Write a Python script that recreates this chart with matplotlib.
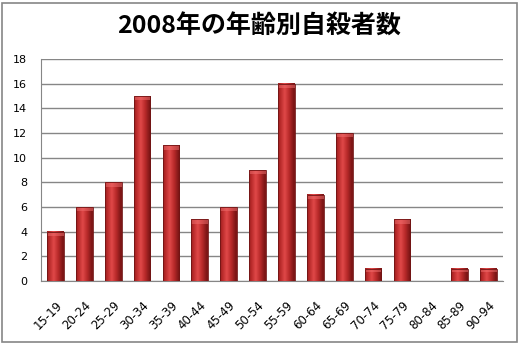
import numpy as np
import matplotlib.pyplot as plt
from matplotlib.colors import LinearSegmentedColormap
from matplotlib.patches import Rectangle

plt.rcParams['font.family'] = ['Noto Sans CJK JP', 'DejaVu Sans']

age_groups = ['15-19', '20-24', '25-29', '30-34', '35-39', '40-44', '45-49', '50-54',
              '55-59', '60-64', '65-69', '70-74', '75-79', '80-84', '85-89', '90-94']
counts = [4, 6, 8, 15, 11, 5, 6, 9, 16, 7, 12, 1, 5, 0, 1, 1]

fig = plt.figure(figsize=(5.19, 3.44), dpi=100)
ax = fig.add_axes([41 / 519, 63 / 344, 462 / 519, 222 / 344])

x = np.arange(len(age_groups))
width = 0.58
bars = ax.bar(x, counts, width=width, color='#c83232', edgecolor='none', zorder=2)

# horizontal cylinder-like shading
grad = np.linspace(0, 1, 64)
shade = np.clip(1 - np.abs(grad - 0.4) * 1.9, 0, 1)
cmap = LinearSegmentedColormap.from_list('rd', ['#7e1616', '#b82a2a', '#e04848'])
for rect in bars:
    h = rect.get_height()
    if h <= 0:
        continue
    x0 = rect.get_x()
    w = rect.get_width()
    ax.imshow(shade[np.newaxis, :], extent=(x0, x0 + w, 0, h), aspect='auto',
              cmap=cmap, vmin=0, vmax=1, zorder=3)
    top = min(0.35, h * 0.3)
    ax.add_patch(Rectangle((x0, h - top), w, top, color='#f07070', alpha=0.5,
                           zorder=4, linewidth=0))
    ax.add_patch(Rectangle((x0, 0), w, h, fill=False, edgecolor='#701414',
                           linewidth=0.6, zorder=5))

ax.set_xlim(-0.5, len(age_groups) - 0.5)
ax.set_ylim(0, 18)
ax.set_yticks(range(0, 19, 2))
ax.set_xticks(x)
ax.set_xticklabels(age_groups, rotation=45, ha='right', rotation_mode='anchor',
                   fontsize=8.5, family=['DejaVu Sans'])
ax.tick_params(axis='y', labelsize=8, length=0, pad=10)
ax.tick_params(axis='x', length=0, pad=13)
for lab in ax.get_yticklabels():
    lab.set_family(['DejaVu Sans'])
ax.grid(axis='y', color='#868686', linewidth=1, zorder=0)
ax.set_axisbelow(True)
for side in ['top', 'right']:
    ax.spines[side].set_visible(False)
ax.spines['left'].set_color('#868686')
ax.spines['bottom'].set_color('#868686')

fig.text(0.5, 1 - 27 / 344, '2008年の年齢別自殺者数', ha='center', va='center',
         fontsize=18, fontweight='bold')
fig.patches.append(Rectangle((2 / 519, 2 / 344), 515 / 519, 339 / 344,
                             transform=fig.transFigure, fill=False,
                             edgecolor='#868686', linewidth=1.2))

fig.savefig('out.png', dpi=100)
